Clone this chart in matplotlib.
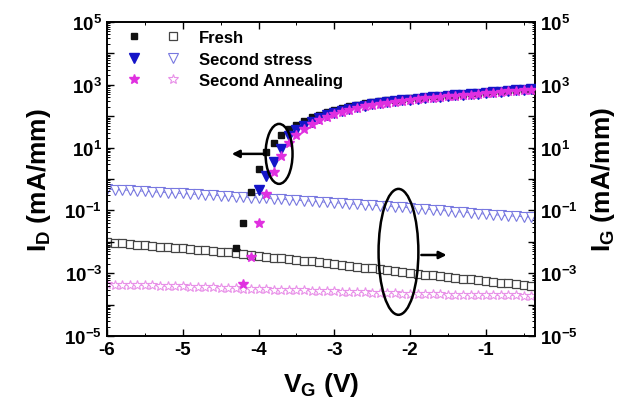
import numpy as np
import matplotlib
matplotlib.use("Agg")
import matplotlib.pyplot as plt
from matplotlib.legend_handler import HandlerTuple
from matplotlib.lines import Line2D
from matplotlib.patches import Ellipse
from matplotlib.ticker import LogLocator, NullFormatter, FixedLocator

plt.rcParams['font.family'] = ['Liberation Sans', 'DejaVu Sans']
plt.rcParams['font.weight'] = 'bold'
plt.rcParams['mathtext.fontset'] = 'custom'
plt.rcParams['mathtext.rm'] = 'Liberation Sans:bold'
plt.rcParams['mathtext.it'] = 'Liberation Sans:bold'
plt.rcParams['mathtext.bf'] = 'Liberation Sans:bold'
plt.rcParams['axes.unicode_minus'] = False

# ---------------- data (log10 of current, mA/mm) ----------------
vg_id_fresh = [-4.3, -4.2, -4.1, -4.0, -3.9, -3.8, -3.7, -3.6, -3.5, -3.4,
               -3.3, -3.2, -3.1, -3.0, -2.9, -2.8, -2.7, -2.6, -2.5, -2.4,
               -2.3, -2.2, -2.1, -2.0, -1.9, -1.8, -1.7, -1.6, -1.5, -1.4,
               -1.3, -1.2, -1.1, -1.0, -0.9, -0.8, -0.7, -0.6, -0.5, -0.4]
log_id_fresh = [-2.20, -1.40, -0.40, 0.32, 0.86, 1.15, 1.40, 1.60, 1.73, 1.85,
                1.96, 2.05, 2.13, 2.21, 2.27, 2.32, 2.37, 2.41, 2.45, 2.48,
                2.51, 2.53, 2.55, 2.57, 2.59, 2.61, 2.63, 2.65, 2.67, 2.69,
                2.71, 2.73, 2.75, 2.77, 2.79, 2.81, 2.83, 2.85, 2.87, 2.88]

vg_id_stress = [-4.0, -3.9, -3.8, -3.7, -3.6, -3.5, -3.4,
                -3.3, -3.2, -3.1, -3.0, -2.9, -2.8, -2.7, -2.6, -2.5, -2.4,
                -2.3, -2.2, -2.1, -2.0, -1.9, -1.8, -1.7, -1.6, -1.5, -1.4,
                -1.3, -1.2, -1.1, -1.0, -0.9, -0.8, -0.7, -0.6, -0.5, -0.4]
log_id_stress = [-0.35, 0.10, 0.54, 0.96, 1.36, 1.55, 1.70,
                 1.83, 1.94, 2.03, 2.11, 2.18, 2.24, 2.29, 2.34, 2.38, 2.42,
                 2.45, 2.48, 2.51, 2.53, 2.56, 2.58, 2.60, 2.62, 2.64, 2.66,
                 2.68, 2.70, 2.72, 2.74, 2.76, 2.78, 2.80, 2.82, 2.84, 2.86]

vg_id_anneal = [-4.2, -4.1, -4.0, -3.9, -3.8, -3.7, -3.6, -3.5, -3.4,
                -3.3, -3.2, -3.1, -3.0, -2.9, -2.8, -2.7, -2.6, -2.5, -2.4,
                -2.3, -2.2, -2.1, -2.0, -1.9, -1.8, -1.7, -1.6, -1.5, -1.4,
                -1.3, -1.2, -1.1, -1.0, -0.9, -0.8, -0.7, -0.6, -0.5, -0.4]
log_id_anneal = [-3.35, -2.48, -1.40, -0.48, 0.22, 0.73, 1.16, 1.40, 1.60,
                 1.75, 1.87, 1.97, 2.06, 2.14, 2.20, 2.26, 2.31, 2.35, 2.39,
                 2.43, 2.46, 2.49, 2.52, 2.55, 2.57, 2.59, 2.61, 2.63, 2.65,
                 2.67, 2.69, 2.71, 2.73, 2.75, 2.77, 2.79, 2.81, 2.83, 2.85]

vg_ig = [-6.0, -5.9, -5.8, -5.7, -5.6, -5.5, -5.4, -5.3, -5.2, -5.1,
         -5.0, -4.9, -4.8, -4.7, -4.6, -4.5, -4.4, -4.3, -4.2, -4.1,
         -4.0, -3.9, -3.8, -3.7, -3.6, -3.5, -3.4, -3.3, -3.2, -3.1,
         -3.0, -2.9, -2.8, -2.7, -2.6, -2.5, -2.4, -2.3, -2.2, -2.1,
         -2.0, -1.9, -1.8, -1.7, -1.6, -1.5, -1.4, -1.3, -1.2, -1.1,
         -1.0, -0.9, -0.8, -0.7, -0.6, -0.5, -0.4]
log_ig_fresh = [-2.00, -2.03, -2.05, -2.07, -2.09, -2.11, -2.13, -2.15, -2.17, -2.19,
                -2.21, -2.23, -2.25, -2.27, -2.29, -2.31, -2.33, -2.36, -2.39, -2.42,
                -2.45, -2.47, -2.50, -2.52, -2.55, -2.57, -2.60, -2.62, -2.65, -2.68,
                -2.71, -2.74, -2.77, -2.79, -2.82, -2.85, -2.88, -2.91, -2.94, -2.97,
                -3.00, -3.02, -3.05, -3.07, -3.10, -3.12, -3.15, -3.17, -3.20, -3.22,
                -3.25, -3.27, -3.30, -3.32, -3.35, -3.37, -3.40]
log_ig_stress = [-0.32, -0.34, -0.35, -0.36, -0.38, -0.39, -0.41, -0.42, -0.43, -0.45,
                 -0.46, -0.48, -0.49, -0.50, -0.52, -0.53, -0.55, -0.56, -0.57, -0.59,
                 -0.60, -0.62, -0.63, -0.65, -0.66, -0.68, -0.69, -0.71, -0.73, -0.74,
                 -0.76, -0.77, -0.79, -0.81, -0.82, -0.84, -0.85, -0.87, -0.89, -0.90,
                 -0.92, -0.94, -0.96, -0.98, -1.00, -1.02, -1.04, -1.06, -1.08, -1.10,
                 -1.12, -1.14, -1.15, -1.17, -1.19, -1.20, -1.22]
log_ig_anneal = [-3.35, -3.36, -3.36, -3.37, -3.38, -3.39, -3.39, -3.40, -3.41, -3.42,
                 -3.42, -3.43, -3.44, -3.45, -3.45, -3.46, -3.47, -3.48, -3.49, -3.49,
                 -3.50, -3.51, -3.52, -3.53, -3.54, -3.54, -3.55, -3.56, -3.57, -3.58,
                 -3.58, -3.59, -3.60, -3.61, -3.61, -3.62, -3.63, -3.63, -3.64, -3.65,
                 -3.65, -3.66, -3.66, -3.67, -3.67, -3.68, -3.68, -3.69, -3.69, -3.70,
                 -3.70, -3.70, -3.71, -3.71, -3.71, -3.72, -3.72]

legend_labels = ["Fresh", "Second stress", "Second Annealing"]
x_ticks = [-6, -5, -4, -3, -2, -1]
y_exponents = [-5, -4, -3, -2, -1, 0, 1, 2, 3, 4, 5]

# ---------------- figure ----------------
fig = plt.figure(figsize=(6.3, 4.06), dpi=100)
fig.subplots_adjust(left=107/630, right=535/630, bottom=1-337/406, top=1-23/406)
ax = fig.add_subplot(111)
ax2 = ax.twinx()

def p(v):
    return 10.0 ** np.asarray(v)

c_black = "#111111"
c_blue = "#1414c8"
c_lblue = "#7878e0"
c_mag = "#e030e0"
c_lmag = "#e890e8"
c_gray = "#444444"

sty_fh = dict(marker='s', ms=5.5, mfc='white', mec=c_gray, mew=0.9)
sty_sh = dict(marker='v', ms=6.5, mfc='white', mec=c_lblue, mew=0.8)
sty_ah = dict(marker='*', ms=7, mfc='white', mec=c_lmag, mew=0.8)
sty_ff = dict(marker='s', ms=5, color=c_black)
sty_sf = dict(marker='v', ms=6.5, color=c_blue)
sty_af = dict(marker='*', ms=7.5, color=c_mag)

# gate currents (right axis)
ax2.plot(vg_ig, p(log_ig_fresh), ls='-', lw=0.6, color="#999999", **sty_fh)
ax2.plot(vg_ig, p(log_ig_stress), ls='-', lw=0.6, color=c_lblue, **sty_sh)
ax2.plot(vg_ig, p(log_ig_anneal), ls='-', lw=0.6, color=c_lmag, **sty_ah)

# drain currents (left axis)
ax.plot(vg_id_fresh, p(log_id_fresh), ls='none', zorder=3, **sty_ff)
ax.plot(vg_id_stress, p(log_id_stress), ls='none', zorder=4, **sty_sf)
ax.plot(vg_id_anneal, p(log_id_anneal), ls='none', zorder=5, **sty_af)
ax.set_zorder(ax2.get_zorder() + 1)
ax.patch.set_visible(False)

for a in (ax, ax2):
    a.set_yscale('log')
    a.set_ylim(1e-5, 1e5)
    a.set_xlim(-6, -0.35)
    a.yaxis.set_major_locator(FixedLocator([10.0 ** e for e in y_exponents]))
    a.yaxis.set_minor_locator(LogLocator(base=10, subs=np.arange(2, 10), numticks=100))
    a.yaxis.set_minor_formatter(NullFormatter())
    a.set_yticklabels([("$10^{%d}$" % e) if e % 2 else "" for e in y_exponents],
                      fontsize=13.5)
    a.tick_params(which='major', direction='in', length=5, width=1.0)
    a.tick_params(which='minor', direction='in', length=2.5, width=0.7)
    for s in a.spines.values():
        s.set_linewidth(1.2)

ax.set_xticks(x_ticks)
ax.set_xticklabels([str(t) for t in x_ticks], fontsize=13.5, fontweight='bold')
ax.set_xticks([-5.5, -4.5, -3.5, -2.5, -1.5, -0.5], minor=True)
ax.tick_params(axis='x', which='both', top=True)
ax.tick_params(axis='y', which='both', left=True, right=False)
ax2.tick_params(axis='y', which='both', left=False, right=True)

ax.set_xlabel("V$_{G}$ (V)", fontsize=19, fontweight='bold', labelpad=9)
ax.set_ylabel("I$_{D}$ (mA/mm)", fontsize=19, fontweight='bold', labelpad=8)
ax2.set_ylabel("I$_{G}$ (mA/mm)", fontsize=19, fontweight='bold', labelpad=8)

# legend: filled + hollow marker pairs (glyphs only, no lines)
def glyph(sty):
    return Line2D([], [], ls='none', **sty)

leg = ax.legend([(glyph(sty_ff), glyph(sty_fh)), (glyph(sty_sf), glyph(sty_sh)),
                 (glyph(sty_af), glyph(sty_ah))], legend_labels,
                handler_map={tuple: HandlerTuple(ndivide=None, pad=0.8)},
                loc='upper left', bbox_to_anchor=(0.035, 0.975), frameon=False,
                borderaxespad=0, borderpad=0, handlelength=3.8, handletextpad=0.8,
                labelspacing=0.4, prop={'size': 12, 'weight': 'bold'})

# annotation ellipses and arrows (axes coordinates)
ax.add_patch(Ellipse((0.402, 0.580), 0.063, 0.191, transform=ax.transAxes,
                     fill=False, ec='black', lw=1.8, zorder=6))
ax.annotate("", xy=(0.285, 0.580), xytext=(0.372, 0.580), xycoords='axes fraction',
            arrowprops=dict(arrowstyle='-|>', color='black', lw=1.8,
                            mutation_scale=11), zorder=6)
ax.add_patch(Ellipse((0.681, 0.268), 0.093, 0.401, transform=ax.transAxes,
                     fill=False, ec='black', lw=1.8, zorder=6))
ax.annotate("", xy=(0.80, 0.258), xytext=(0.728, 0.258), xycoords='axes fraction',
            arrowprops=dict(arrowstyle='-|>', color='black', lw=1.8,
                            mutation_scale=11), zorder=6)

fig.savefig("out.png", dpi=100)
